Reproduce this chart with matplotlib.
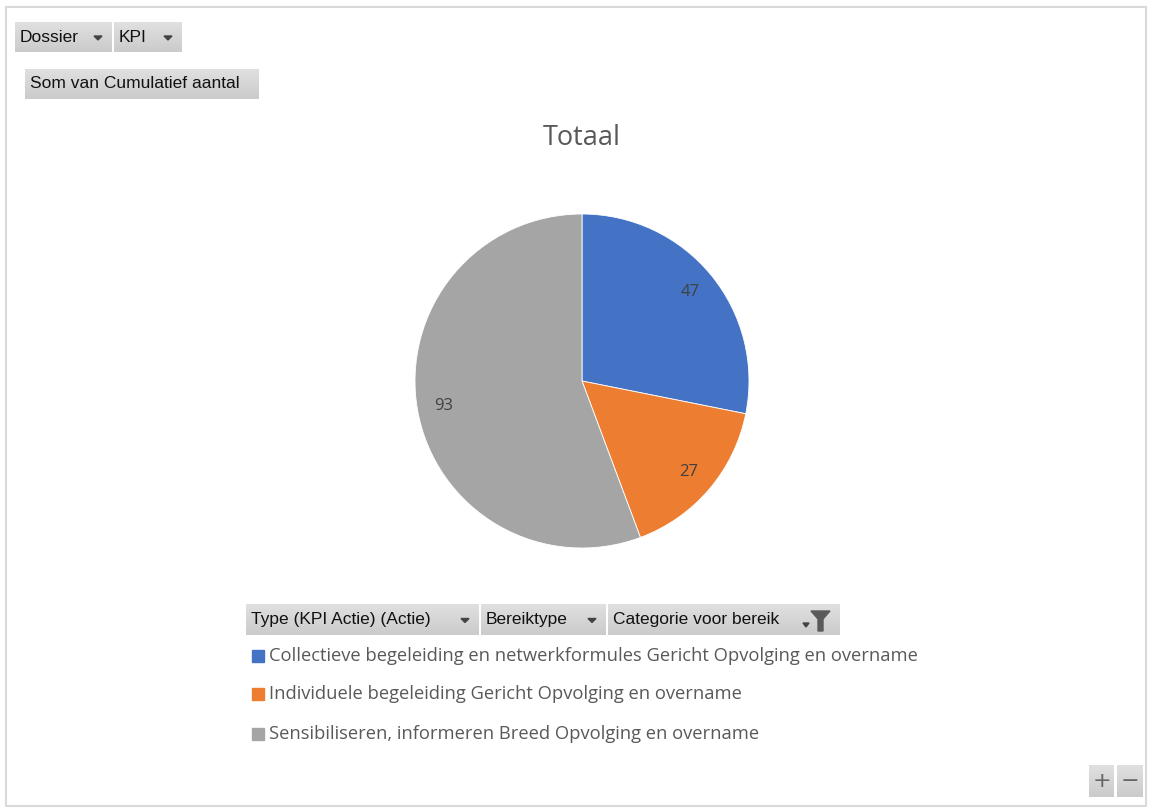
import numpy as np
import matplotlib
matplotlib.use("Agg")
import matplotlib.pyplot as plt
from matplotlib.patches import Rectangle, Polygon

# data
categories = [
    "Collectieve begeleiding en netwerkformules Gericht Opvolging en overname",
    "Individuele begeleiding Gericht Opvolging en overname",
    "Sensibiliseren, informeren Breed Opvolging en overname",
]
values = [47, 27, 93]
colors = ["#4472C4", "#ED7D31", "#A5A5A5"]
title = "Totaal"
top_buttons = ["Dossier", "KPI"]
value_button = "Som van Cumulatief aantal"
axis_buttons = ["Type (KPI Actie) (Actie)", "Bereiktype", "Categorie voor bereik"]

W, H = 1149, 807
fig = plt.figure(figsize=(W / 100, H / 100), dpi=100)
ax = fig.add_axes([0, 0, 1, 1])

def Y(y):
    return H - y

btn_font = "Liberation Sans"
txt_font = "Open Sans"

# pie
wedges, texts = ax.pie(values, colors=colors, startangle=90, counterclock=False,
                       center=(582, Y(381)), radius=167, frame=True,
                       wedgeprops=dict(edgecolor="white", linewidth=0.6))
total = sum(values)
ang = 90.0
for v in values:
    mid = np.deg2rad(ang - v / total * 180.0)
    ang -= v / total * 360.0
    ax.text(582 + 0.84 * 167 * np.cos(mid), Y(381) + 0.84 * 167 * np.sin(mid), str(v),
            ha="center", va="center", fontsize=12, color="#404040", family=txt_font)

ax.set_aspect("auto")
ax.axis("off")

# outer frame
ax.add_patch(Rectangle((6, Y(806)), 1140, 799, fill=False, edgecolor="#d9d9d9", lw=1.5))

ax.text(582, Y(138), title, ha="center", va="center", fontsize=19.5, color="#595959", family=txt_font)

grad = np.linspace(0, 1, 50).reshape(-1, 1)
cmap = matplotlib.colors.LinearSegmentedColormap.from_list("btn", ["#e0e0e0", "#cbcbcb"])

def button(x0, x1, y0, y1, label, arrow=False):
    ax.imshow(grad, cmap=cmap, extent=(x0, x1, Y(y1), Y(y0)), aspect="auto", zorder=2)
    ax.text(x0 + 5, Y((y0 + y1) / 2), label, ha="left", va="center", fontsize=12.5,
            color="#111111", family=btn_font, zorder=3)
    if arrow:
        cx, cy = x1 - 14, Y((y0 + y1) / 2 + 1)
        ax.add_patch(Polygon([(cx - 4, cy + 2), (cx + 4, cy + 2), (cx, cy - 2)],
                             color="#444444", zorder=3))

button(15, 112, 22, 52, top_buttons[0], True)
button(114, 182, 22, 52, top_buttons[1], True)
button(25, 259, 69, 99, value_button)
button(246, 479, 604, 635, axis_buttons[0], True)
button(481, 606, 604, 635, axis_buttons[1], True)
button(608, 840, 604, 635, axis_buttons[2])
# filter icon
fy = Y(611)
ax.add_patch(Polygon([(811, fy), (830, fy), (823, fy - 8), (823, fy - 20), (818, fy - 20), (818, fy - 8)],
                     color="#5a5a5a", zorder=3))
ax.add_patch(Polygon([(803, Y(623)), (809, Y(623)), (806, Y(627))], color="#444444", zorder=3))

# legend
for i, (lab, c) in enumerate(zip(categories, colors)):
    yc = [656, 694, 734][i]
    ax.add_patch(Rectangle((252, Y(yc) - 6), 12, 12, color=c))
    ax.text(269, Y(yc), lab, ha="left", va="center", fontsize=13.2, color="#595959", family=txt_font)

# zoom buttons
for x0, x1, s in [(1089, 1114, "+"), (1117, 1143, "−")]:
    ax.imshow(grad, cmap=cmap, extent=(x0, x1, Y(797), Y(765)), aspect="auto", zorder=2)
    ax.text((x0 + x1) / 2, Y(781), s, ha="center", va="center", fontsize=16,
            color="#666666", family="DejaVu Sans", zorder=3)

ax.set_xlim(0, W)
ax.set_ylim(0, H)
fig.savefig("out.png", dpi=100)
